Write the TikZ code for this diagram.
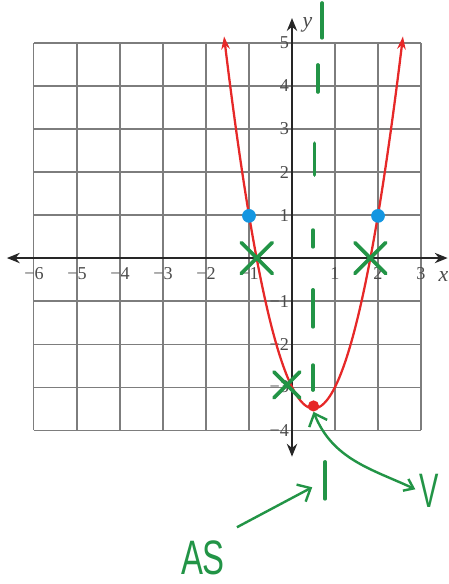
\documentclass[tikz,border=0pt]{standalone}
\usepackage{fontspec}
\setmainfont{Liberation Serif}
\newfontfamily\handfont{Liberation Sans}
\usetikzlibrary{arrows.meta, positioning, calc}
\definecolor{curvered}{RGB}{230,40,40}
\definecolor{markgreen}{RGB}{34,148,70}
\definecolor{dotblue}{RGB}{20,150,225}
\definecolor{gridgray}{RGB}{125,125,125}
\definecolor{labelgray}{RGB}{75,75,75}
\tikzset{
  gridline/.style={gridgray, line width=0.7pt},
  axisline/.style={<->, >={Stealth[length=3mm, width=2.4mm]}, line width=1.2pt, black!85},
  parab/.style={<->, >={Stealth[length=3mm, width=2mm]}, curvered, line width=1.5pt},
  ticklbl/.style={font=\large, text=labelgray, inner sep=1pt},
  axislbl/.style={font=\Large\itshape, text=labelgray, inner sep=0pt},
  symdash/.style={markgreen, line width=2.4pt, line cap=round},
  xmark/.style={markgreen, line width=2.4pt, line cap=round},
  bluedot/.style={circle, fill=dotblue, inner sep=0pt, minimum size=3.2mm},
  vtxdot/.style={circle, fill=curvered, inner sep=0pt, minimum size=2.6mm},
  hand/.style={text=markgreen, inner sep=0pt, font=\handfont\fontsize{32}{32}\selectfont},
  handarrow/.style={-{Straight Barb[length=2.5mm, width=4.5mm]}, markgreen, line width=1.6pt},
  handarrows/.style={{Straight Barb[length=2mm, width=3mm]}-{Straight Barb[length=2.5mm, width=4.5mm]},
    markgreen, line width=1.6pt}
}
\begin{document}
\begin{tikzpicture}[>=Stealth]
  \useasboundingbox (-6.79,-7.58) rectangle (3.63,6.0);
  % grid and axes
  \draw[gridline] (-6,-4) grid (3,5);
  \draw[axisline] (-6.63,0) -- (3.62,0);
  \draw[axisline] (0,-4.62) -- (0,5.58);
  \foreach \x/\t in {-6/−6,-5/−5,-4/−4,-3/−3,-2/−2,-1/−1,1/1,2/2,3/3}
    \node[ticklbl] (xl\x) at (\x,-0.37) {\t};
  \foreach \y/\t in {5/5,4/4,3/3,2/2,1/1,-1/−1,-2/−2,-3/−3,-4/−4}
    \node[ticklbl, anchor=east] (yl\y) at (-0.03,\y) {\t};
  \node[axislbl] (xname) at (3.52,-0.42) {x};
  \node[axislbl] (yname) at (0.36,5.42) {y};

  % parabola
  \draw[parab] plot[domain=-1.58:2.58, samples=80, smooth] (\x, {2*\x*\x-2*\x-3});
  \node[bluedot] (pl) at (-1,0.98) {};
  \node[bluedot] (pr) at (2,0.98) {};

  % axis of symmetry
  \foreach \dx/\ya/\yb in {0.70/5.93/5.12, 0.60/4.49/3.86, 0.52/2.67/1.93,
      0.49/0.65/0.26, 0.49/-0.74/-1.6, 0.49/-2.49/-3.07}
    \draw[symdash] (\dx,\ya) -- (\dx,\yb);
  \coordinate (symtop) at (0.77,-4.74);
  \coordinate (symbot) at (0.77,-5.6);
  \draw[symdash] (symtop) -- (symbot);

  % intercepts
  \foreach \cx/\cy/\r in {-0.82/0/0.36, 1.82/0/0.36, -0.12/-2.95/0.3}{
    \draw[xmark] (\cx-\r,\cy+\r) -- (\cx+\r,\cy-\r);
    \draw[xmark] (\cx+\r,\cy+\r) -- (\cx-\r,\cy-\r);
  }

  % vertex
  \node[vtxdot] (vtx) at (0.5,-3.44) {};
  \node[hand] (vname) at (3.19,-5.42) {\scalebox{0.6}[1]{V}};
  \draw[handarrows, shorten <=1mm] (vname.west) to[out=155, in=-68] (vtx.south);

  \node[hand] (asname) at (-2.07,-6.98) {\scalebox{0.68}[1]{AS}};
  \coordinate (astail) at (-1.28,-6.26);
  \coordinate (astip) at (0.47,-5.33);
  \draw[handarrow] (astail) -- (astip);
\end{tikzpicture}
\end{document}
